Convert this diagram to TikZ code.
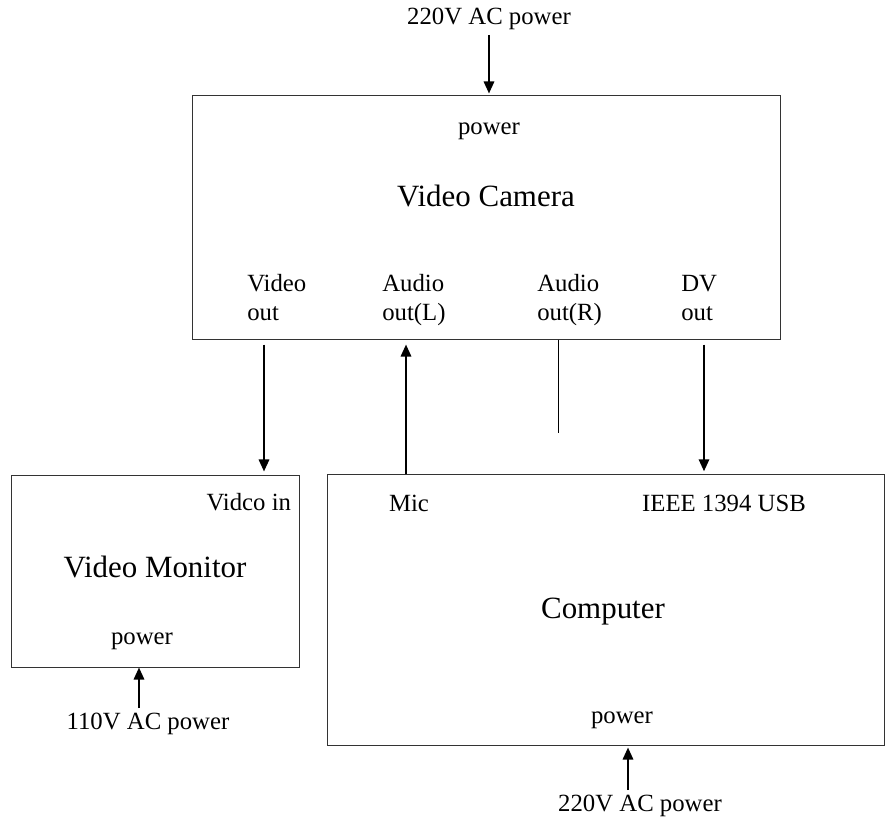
\documentclass[tikz,border=0pt]{standalone}
\usepackage{fontspec}
\setmainfont{Liberation Serif}
\usepackage{tikz}
\usetikzlibrary{positioning, arrows.meta}

\begin{document}
\begin{tikzpicture}[
    x=0.025cm, y=-0.025cm,
    device/.style={rectangle, draw=black!80, line width=0.7pt, inner sep=0pt},
    big/.style={font=\fontsize{22}{26}\selectfont},
    small/.style={font=\fontsize{17.6}{20}\selectfont},
    port/.style={small, align=left, anchor=north west, inner sep=0pt},
    arr/.style={-{Triangle[length=0.3cm, width=0.26cm]}, line width=1.4pt}
]
    \useasboundingbox (0,0) rectangle (889,823);

    % Devices
    \node[device, minimum width=14.675cm, minimum height=6.075cm] (cam) at (486.5,217.5) {};
    \node[device, minimum width=7.175cm, minimum height=4.775cm] (mon) at (155.5,571.5) {};
    \node[device, minimum width=13.9cm, minimum height=6.75cm] (comp) at (606,610) {};

    % Camera labels
    \node[small] (campwr) at (489,131) {power};
    \node[big] (camname) at (486,196) {Video Camera};
    \node[port] (vout) at (247,272) {\strut Video\\out};
    \node[port] (lout) at (382,272) {\strut Audio\\out(L)};
    \node[port] (rout) at (537,272) {\strut Audio\\out(R)};
    \node[port] (dvout) at (681,272) {\strut DV\\out};

    % Monitor labels
    \node[small, anchor=east] (vin) at (296,502) {Vidco in};
    \node[big] (monname) at (155,567) {Video Monitor};
    \node[small] (monpwr) at (142,641) {power};

    % Computer labels
    \node[small] (mic) at (409,503) {Mic};
    \node[small] (usb) at (724,503) {IEEE 1394 USB};
    \node[big] (compname) at (603,612) {Computer};
    \node[small] (comppwr) at (622,720) {power};

    % Supplies
    \node[small] (acTop) at (489,19) {220V AC power};
    \node[small] (acMon) at (148,724) {110V AC power};
    \node[small] (acComp) at (640,806) {220V AC power};

    % Wire positions
    \coordinate (vx) at (264,0);
    \coordinate (lx) at (406,0);
    \coordinate (rend) at (558,433);
    \coordinate (dvx) at (704,0);
    \coordinate (mx) at (139,0);
    \coordinate (cx) at (628,0);

    % Connections
    \draw[arr, shorten >=0.05cm] (acTop.south) -- (cam.north -| acTop);
    \draw[arr, shorten <=0.125cm, shorten >=0.1cm] (cam.south -| vx) -- (mon.north -| vx);
    \draw[arr, shorten >=0.125cm] (comp.north -| lx) -- (cam.south -| lx);
    \draw[line width=0.7pt] (cam.south -| rend) -- (rend);
    \draw[arr, shorten <=0.125cm, shorten >=0.08cm] (cam.south -| dvx) -- (comp.north -| dvx);

    \draw[arr] (acMon.north -| mx) -- (mon.south -| mx);
    \draw[arr, shorten >=0.05cm] (acComp.north -| cx) -- (comp.south -| cx);
\end{tikzpicture}
\end{document}
